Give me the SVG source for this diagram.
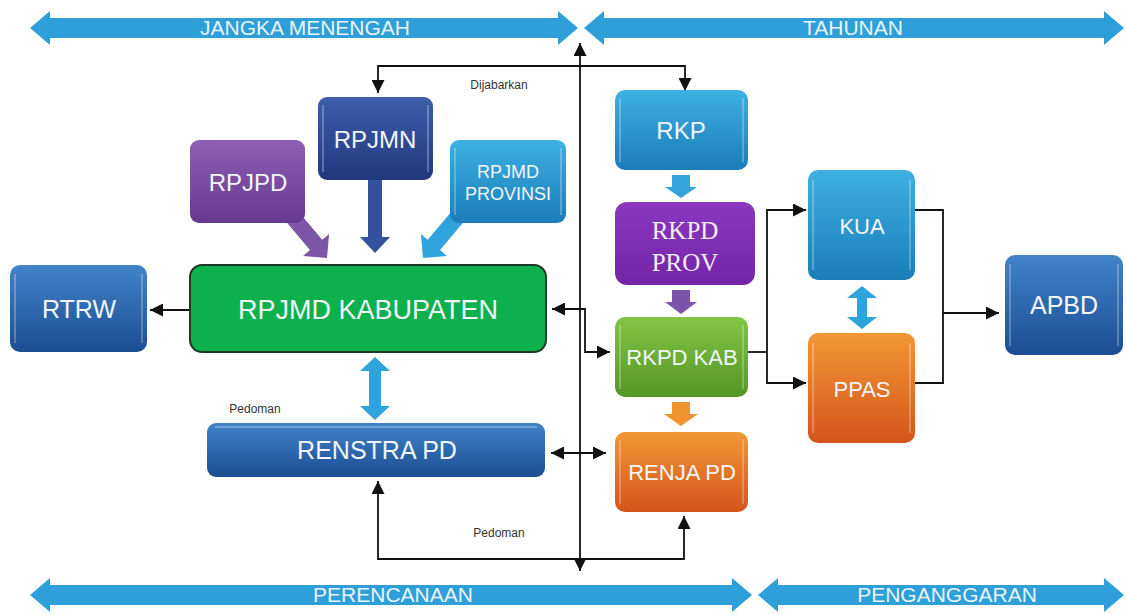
<svg xmlns="http://www.w3.org/2000/svg" width="1126" height="615" viewBox="0 0 1126 615">
<defs>
<style>
.t{font-family:"Liberation Sans",Arial,sans-serif;fill:#F2F6FA;text-anchor:middle}
.ts{font-family:"Liberation Serif","Times New Roman",serif;fill:#F4EEF8;text-anchor:middle}
.lbl{font-family:"Liberation Sans",Arial,sans-serif;fill:#333;font-size:12px;text-anchor:middle}
.ban{fill:#2E9FD8}
.bt{font-family:"Liberation Sans",Arial,sans-serif;fill:#E8F4FB;font-size:21px;text-anchor:middle}
.c{fill:none;stroke:#111;stroke-width:1.8}
.hl{stroke:#fff;stroke-opacity:0.35;stroke-width:1.5}
</style>
<marker id="ahb" viewBox="0 0 10 10" refX="10" refY="5" markerWidth="13" markerHeight="13" markerUnits="userSpaceOnUse" orient="auto-start-reverse">
<path d="M0,0 L10,5 L0,10 Z" fill="#111"/>
</marker>
<linearGradient id="gBlue" x1="0" y1="0" x2="0" y2="1"><stop offset="0" stop-color="#4283CA"/><stop offset="1" stop-color="#1B4D92"/></linearGradient>
<linearGradient id="gNavy" x1="0" y1="0" x2="0" y2="1"><stop offset="0" stop-color="#3F5DAB"/><stop offset="1" stop-color="#22387E"/></linearGradient>
<linearGradient id="gPurp" x1="0" y1="0" x2="0" y2="1"><stop offset="0" stop-color="#8E60B4"/><stop offset="1" stop-color="#66388F"/></linearGradient>
<linearGradient id="gLight" x1="0" y1="0" x2="0" y2="1"><stop offset="0" stop-color="#3DB0E2"/><stop offset="1" stop-color="#1B7DB9"/></linearGradient>
<linearGradient id="gVio" x1="0" y1="0" x2="0" y2="1"><stop offset="0" stop-color="#8A38C0"/><stop offset="1" stop-color="#7325A6"/></linearGradient>
<linearGradient id="gGreen" x1="0" y1="0" x2="0" y2="1"><stop offset="0" stop-color="#82C545"/><stop offset="1" stop-color="#559626"/></linearGradient>
<linearGradient id="gOr" x1="0" y1="0" x2="0" y2="1"><stop offset="0" stop-color="#F39734"/><stop offset="1" stop-color="#D3541C"/></linearGradient>
</defs>

<rect width="1126" height="615" fill="#FFFFFF"/>

<g id="banners">
<polygon class="ban" points="30,28 50,11 50,18 558,18 558,11 578,28 558,45 558,38 50,38 50,45"/>
<text class="bt" x="305" y="35">JANGKA MENENGAH</text>
<polygon class="ban" points="584,28 604,11 604,18 1104,18 1104,11 1124,28 1104,45 1104,38 604,38 604,45"/>
<text class="bt" x="853" y="35">TAHUNAN</text>
<polygon class="ban" points="30,595 50,578 50,585 732,585 732,578 752,595 732,612 732,605 50,605 50,612"/>
<text class="bt" x="393" y="602">PERENCANAAN</text>
<polygon class="ban" points="758,595 778,578 778,585 1104,585 1104,578 1124,595 1104,612 1104,605 778,605 778,612"/>
<text class="bt" x="947" y="602">PENGANGGARAN</text>
</g>

<g id="block-arrows">
<polygon fill="#34519F" points="368,180 382,180 382,237 390,237 375,253 360,237 368,237"/>
<polygon fill="#7E56A8" transform="translate(327,258) rotate(-40)" points="-8,-52 8,-52 8,-17 17,-17 0,0 -17,-17 -8,-17"/>
<polygon fill="#2FA3DC" transform="translate(423,258) rotate(40)" points="-8,-52 8,-52 8,-17 17,-17 0,0 -17,-17 -8,-17"/>
<polygon fill="#2FA3DC" points="375,357 390,371 381,371 381,406 390,406 375,420 360,406 369,406 369,371 360,371"/>
<polygon fill="#33A3DA" points="672,175 690,175 690,187 697,187 681,198 665,187 672,187"/>
<polygon fill="#7C55AA" points="672,290 690,290 690,302 697,302 681,314 665,302 672,302"/>
<polygon fill="#F0932F" points="672,402 690,402 690,414 698,414 681,426 664,414 672,414"/>
<polygon fill="#2FA3DC" points="862,286 877,298 867,298 867,317 877,317 862,329 847,317 857,317 857,298 847,298"/>
</g>

<g id="connectors">
<path class="c" d="M378,93 V66 H685 V91" marker-start="url(#ahb)" marker-end="url(#ahb)"/>
<path class="c" d="M580,43 V571" marker-start="url(#ahb)" marker-end="url(#ahb)"/>
<path class="c" d="M190,310 H150" marker-end="url(#ahb)"/>
<path class="c" d="M552,309 H585 V352 H610" marker-start="url(#ahb)" marker-end="url(#ahb)"/>
<path class="c" d="M551,453 H606" marker-start="url(#ahb)" marker-end="url(#ahb)"/>
<path class="c" d="M378,481 V559 H684 V516" marker-start="url(#ahb)" marker-end="url(#ahb)"/>
<path class="c" d="M748,352 H767"/>
<path class="c" d="M806,210 H767 V383 H806" marker-start="url(#ahb)" marker-end="url(#ahb)"/>
<path class="c" d="M915,210 H943 V383 H915"/>
<path class="c" d="M943,313 H999" marker-end="url(#ahb)"/>
<text class="lbl" x="499" y="89">Dijabarkan</text>
<text class="lbl" x="255" y="413">Pedoman</text>
<text class="lbl" x="499" y="537">Pedoman</text>
</g>

<g id="RPJMN">
<rect x="318" y="97" width="115" height="83" rx="9" fill="url(#gNavy)"/>
<line class="hl" x1="323" y1="105" x2="323" y2="172"/><line class="hl" x1="428" y1="105" x2="428" y2="172"/>
<text class="t" x="375" y="148" font-size="24">RPJMN</text>
</g>
<g id="RPJPD">
<rect x="190" y="140" width="115" height="83" rx="9" fill="url(#gPurp)"/>
<text class="t" x="248" y="191" font-size="24">RPJPD</text>
</g>
<g id="RPJMD-PROVINSI">
<rect x="450" y="140" width="116" height="83" rx="9" fill="url(#gLight)"/>
<line class="hl" x1="455" y1="148" x2="455" y2="215"/><line class="hl" x1="561" y1="148" x2="561" y2="215"/>
<text class="t" x="508" y="178" font-size="18">RPJMD</text>
<text class="t" x="508" y="200" font-size="18">PROVINSI</text>
</g>
<g id="RTRW">
<rect x="10" y="265" width="137" height="87" rx="10" fill="url(#gBlue)"/>
<line class="hl" x1="15" y1="274" x2="15" y2="343"/><line class="hl" x1="142" y1="274" x2="142" y2="343"/>
<text class="t" x="79" y="318" font-size="25">RTRW</text>
</g>
<g id="RPJMD-KABUPATEN">
<rect x="190" y="265" width="356" height="87" rx="12" fill="#0CB04C" stroke="#1C3A26" stroke-width="2"/>
<text class="t" x="368" y="319" font-size="27">RPJMD KABUPATEN</text>
</g>
<g id="RENSTRA-PD">
<rect x="207" y="423" width="338" height="54" rx="9" fill="url(#gBlue)"/>
<line class="hl" x1="215" y1="427" x2="537" y2="427"/>
<text class="t" x="377" y="459" font-size="25">RENSTRA PD</text>
</g>
<g id="RKP">
<rect x="615" y="90" width="133" height="80" rx="10" fill="url(#gLight)"/>
<line class="hl" x1="620" y1="98" x2="620" y2="162"/><line class="hl" x1="743" y1="98" x2="743" y2="162"/>
<text class="t" x="681" y="139" font-size="24">RKP</text>
</g>
<g id="RKPD-PROV">
<rect x="615" y="202" width="140" height="83" rx="12" fill="url(#gVio)"/>
<text class="ts" x="685" y="239" font-size="25">RKPD</text>
<text class="ts" x="685" y="271" font-size="25">PROV</text>
</g>
<g id="RKPD-KAB">
<rect x="615" y="317" width="133" height="80" rx="10" fill="url(#gGreen)"/>
<line class="hl" x1="620" y1="325" x2="620" y2="389"/><line class="hl" x1="743" y1="325" x2="743" y2="389"/>
<text class="t" x="682" y="365" font-size="22">RKPD KAB</text>
</g>
<g id="RENJA-PD">
<rect x="615" y="432" width="133" height="80" rx="10" fill="url(#gOr)"/>
<line class="hl" x1="620" y1="440" x2="620" y2="504"/><line class="hl" x1="743" y1="440" x2="743" y2="504"/>
<text class="t" x="682" y="480" font-size="22">RENJA PD</text>
</g>
<g id="KUA">
<rect x="808" y="170" width="107" height="110" rx="10" fill="url(#gLight)"/>
<line class="hl" x1="813" y1="180" x2="813" y2="270"/><line class="hl" x1="910" y1="180" x2="910" y2="270"/>
<text class="t" x="862" y="234" font-size="22">KUA</text>
</g>
<g id="PPAS">
<rect x="808" y="333" width="107" height="110" rx="10" fill="url(#gOr)"/>
<line class="hl" x1="813" y1="343" x2="813" y2="433"/><line class="hl" x1="910" y1="343" x2="910" y2="433"/>
<text class="t" x="862" y="397" font-size="22">PPAS</text>
</g>
<g id="APBD">
<rect x="1005" y="255" width="118" height="100" rx="10" fill="url(#gBlue)"/>
<line class="hl" x1="1010" y1="264" x2="1010" y2="346"/><line class="hl" x1="1118" y1="264" x2="1118" y2="346"/>
<text class="t" x="1064" y="314" font-size="25">APBD</text>
</g>
</svg>
